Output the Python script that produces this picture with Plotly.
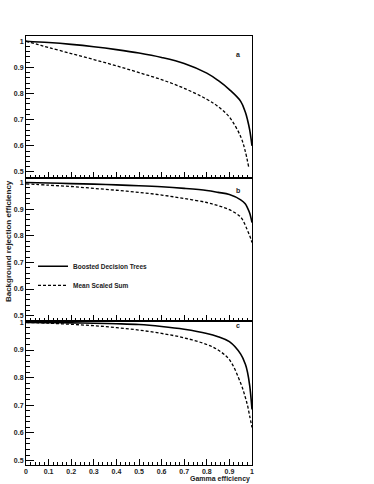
import plotly.graph_objects as go

# Gamma efficiency (x) grid
x_pts = [0, 0.1, 0.2, 0.3, 0.4, 0.5, 0.6, 0.7, 0.8, 0.85, 0.9, 0.95, 0.97, 0.98, 0.99, 1.0]

# Panel a
bdt_a = [1.0, 0.995, 0.988, 0.979, 0.968, 0.955, 0.938, 0.915, 0.878, 0.85, 0.815, 0.77, 0.73, 0.70, 0.66, 0.60]
mss_a_x = [0, 0.05, 0.1, 0.2, 0.3, 0.4, 0.5, 0.6, 0.7, 0.8, 0.85, 0.9, 0.95, 0.97, 0.985]
mss_a = [1.0, 0.988, 0.976, 0.953, 0.93, 0.906, 0.88, 0.853, 0.82, 0.778, 0.75, 0.71, 0.635, 0.58, 0.52]

# Panel b
bdt_b = [1.0, 0.998, 0.996, 0.994, 0.991, 0.988, 0.984, 0.978, 0.97, 0.963, 0.955, 0.935, 0.92, 0.905, 0.885, 0.85]
mss_b = [0.995, 0.99, 0.985, 0.978, 0.971, 0.963, 0.953, 0.94, 0.925, 0.913, 0.898, 0.87, 0.84, 0.82, 0.80, 0.775]

# Panel c
bdt_c = [1.0, 0.999, 0.998, 0.997, 0.995, 0.992, 0.985, 0.975, 0.96, 0.948, 0.93, 0.885, 0.85, 0.82, 0.77, 0.685]
mss_c = [1.0, 0.997, 0.993, 0.988, 0.981, 0.972, 0.96, 0.944, 0.92, 0.9, 0.865, 0.78, 0.73, 0.70, 0.66, 0.62]

series_names = ["Boosted Decision Trees", "Mean Scaled Sum"]
panel_labels = ["a", "b", "c"]
x_ticks = [0, 0.1, 0.2, 0.3, 0.4, 0.5, 0.6, 0.7, 0.8, 0.9, 1]
x_ticktext = ["0", "0.1", "0.2", "0.3", "0.4", "0.5", "0.6", "0.7", "0.8", "0.9", "1"]
y_ticks = [0.5, 0.6, 0.7, 0.8, 0.9, 1.0]
y_ticktext = ["0.5", "0.6", "0.7", "0.8", "0.9", "1"]

FONT = "Liberation Sans"
solid = dict(color="black", width=1.6)
dashed = dict(color="black", width=1.3, dash="3px,2px")

fig = go.Figure()
panels = [
    ("y", x_pts, bdt_a, mss_a_x, mss_a, False),
    ("y2", x_pts, bdt_b, x_pts, mss_b, True),
    ("y3", x_pts, bdt_c, x_pts, mss_c, False),
]
xnames = ["x", "x2", "x3"]
for (yn, xb, yb, xm, ym, show), xn in zip(panels, xnames):
    fig.add_trace(go.Scatter(x=xb, y=yb, mode="lines", line=solid, line_shape="spline",
                             name=series_names[0], showlegend=show,
                             xaxis=xn, yaxis=yn))
    fig.add_trace(go.Scatter(x=xm, y=ym, mode="lines", line=dashed, line_shape="spline",
                             name=series_names[1], showlegend=show,
                             xaxis=xn, yaxis=yn))

tickfont = dict(family=FONT, size=7, color="#222", weight="bold")
domains = [[0.669, 1.0], [0.3357, 0.669], [0.0, 0.3357]]
yranges = [[0.477, 1.02], [0.48, 1.017], [0.484, 1.005]]

common_x = dict(range=[0, 1], showline=True, linecolor="black", linewidth=1, mirror=True,
                ticks="inside", ticklen=6, tickcolor="black", tickvals=x_ticks, ticktext=x_ticktext,
                minor=dict(ticks="inside", ticklen=3, dtick=0.02, tick0=0, tickcolor="black"),
                showgrid=False, zeroline=False, tickfont=tickfont, automargin=False)
common_y = dict(showline=True, linecolor="black", linewidth=1, mirror=True,
                ticks="inside", ticklen=8, tickcolor="black", tickvals=y_ticks, ticktext=y_ticktext,
                minor=dict(ticks="inside", ticklen=4, dtick=0.02, tick0=0.5, tickcolor="black"),
                showgrid=False, zeroline=False, tickfont=tickfont, automargin=False)

layout = dict(
    width=374, height=484,
    margin=dict(l=26, r=122, t=36, b=19),
    paper_bgcolor="white", plot_bgcolor="white",
    showlegend=True,
    legend=dict(x=0.031, y=0.497, xanchor="left", yanchor="top", bgcolor="rgba(0,0,0,0)",
                font=dict(family=FONT, size=6.5, color="#222", weight="bold"),
                tracegroupgap=0),
)
for i, (xn, yn) in enumerate(zip(["xaxis", "xaxis2", "xaxis3"], ["yaxis", "yaxis2", "yaxis3"])):
    xa = dict(common_x)
    xa["anchor"] = ["y", "y2", "y3"][i]
    xa["showticklabels"] = (i == 2)
    if i > 0:
        xa["matches"] = "x"
    ya = dict(common_y)
    ya["domain"] = domains[i]
    ya["range"] = yranges[i]
    ya["anchor"] = ["x", "x2", "x3"][i]
    layout[xn] = xa
    layout[yn] = ya
fig.update_layout(**layout)

label_y = [0.970, 0.639, 0.312]
for lab, yy in zip(panel_labels, label_y):
    fig.add_annotation(text=lab, x=0.956, y=yy, xref="paper", yref="paper", showarrow=False,
                       font=dict(family=FONT, size=7, color="#222", weight="bold"))

fig.add_annotation(text="Background rejection efficiency", x=-0.0796, y=0.522, xref="paper", yref="paper",
                   textangle=-90, showarrow=False, xanchor="center", yanchor="middle",
                   font=dict(family=FONT, size=8, color="#222", weight="bold"))
fig.add_annotation(text="Gamma efficiency", x=1.0, y=-0.0315, xref="paper", yref="paper",
                   showarrow=False, xanchor="right", yanchor="middle",
                   font=dict(family=FONT, size=7, color="#222", weight="bold"))

fig.write_html("out.html", config={"displayModeBar": False},
               post_script="document.body.style.margin='0';document.body.style.padding='0';")
